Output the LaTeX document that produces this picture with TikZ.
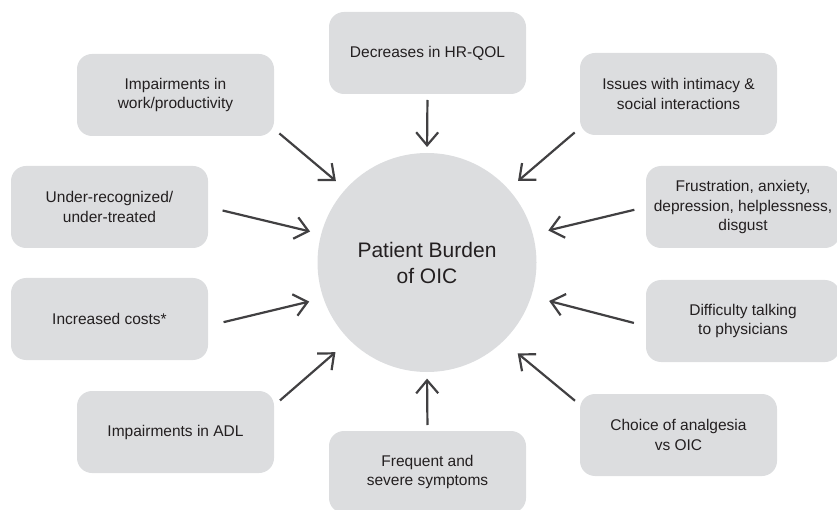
\documentclass[tikz,border=0pt]{standalone}
\usepackage{fontspec}
\setmainfont{Liberation Sans}
\usepackage{xcolor}
\usepackage{tikz}
\usetikzlibrary{arrows.meta}
\definecolor{ink}{HTML}{231F20}
\definecolor{shade}{HTML}{DCDDDF}
\definecolor{wire}{HTML}{414042}
\tikzset{
  box/.style={fill=shade, rounded corners=15pt, minimum width=197pt, minimum height=82pt,
    inner sep=0pt, outer sep=0pt, align=center, text=ink, font=\fontsize{15.5}{19.5}\selectfont},
  hub/.style={circle, fill=shade, minimum size=219pt, inner sep=0pt, outer sep=0pt,
    align=center, text=ink, font=\fontsize{21}{26}\selectfont},
  arr/.style={draw=wire, line width=2.2pt, -{Straight Barb[length=13pt, width=22pt]}},
}

\begin{document}
\begin{tikzpicture}[x=1pt, y=-1pt]
  \useasboundingbox (0,0) rectangle (837,510);
  \clip (0,0) rectangle (837,510);
  % centre
  \node[hub] (burden) at (427,262.5) {Patient Burden\\of OIC};
  % factors round it
  \node[box] (hrqol) at (427.5,53) {Decreases in HR-QOL};
  \node[box] (work) at (175.5,95) {Impairments in\\work/productivity};
  \node[box] (intimacy) at (678.5,94) {Issues with intimacy \&\\social interactions};
  \node[box] (under) at (109.5,207) {Under-recognized/\\under-treated};
  \node[box, minimum width=194pt] (frust) at (743,207) {Frustration, anxiety,\\depression, helplessness,\\disgust};
  \node[box] (costs) at (109.5,319) {Increased costs*};
  \node[box, minimum width=194pt] (talk) at (743,321) {Difficulty talking\\to physicians};
  \node[box] (adl) at (175.5,432) {Impairments in ADL};
  \node[box] (choice) at (678.5,435) {Choice of analgesia\\vs OIC};
  \node[box] (freq) at (427.5,472) {Frequent and\\severe symptoms};
  % arrows into the centre
  \foreach \from/\to/\s/\e in {
      hrqol.south/burden.north/6/6, work.-19/burden.138/7/12.7,
      intimacy.199/burden.42/7/12.7, under.east/burden.165/15/11.5,
      frust.west/burden.15/12/16, costs.-4/burden.199/16/14.7,
      talk.183/burden.-18/12.5/18.6, adl.15/burden.225/7.9/18.7,
      choice.163/burden.-46/6.5/19, freq.north/burden.south/6/6.6}
    \draw[arr, shorten <=\s pt, shorten >=\e pt] (\from) -- (\to);
\end{tikzpicture}
\end{document}
